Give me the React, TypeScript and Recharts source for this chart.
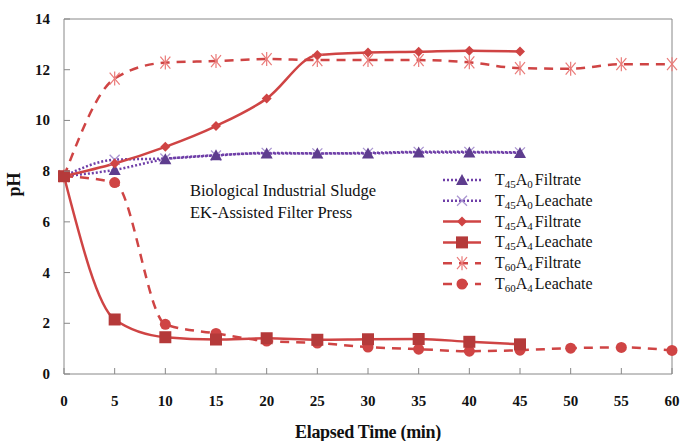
import { Legend, Line, LineChart, ReferenceLine, XAxis, YAxis } from "recharts";

const times = [0, 5, 10, 15, 20, 25, 30, 35, 40, 45, 50, 55, 60];

const t45a0Filtrate = [7.8, 8.05, 8.47, 8.63, 8.7, 8.7, 8.7, 8.74, 8.74, 8.72];
const t45a0Leachate = [7.8, 8.45, 8.5, 8.62, 8.72, 8.7, 8.72, 8.76, 8.76, 8.74];
const t45a4Filtrate = [7.8, 8.3, 8.96, 9.78, 10.86, 12.58, 12.68, 12.71, 12.75, 12.72];
const t45a4Leachate = [7.8, 2.15, 1.45, 1.36, 1.41, 1.35, 1.37, 1.38, 1.27, 1.17];
const t60a4Filtrate = [7.8, 11.65, 12.28, 12.34, 12.42, 12.38, 12.38, 12.38, 12.29, 12.06, 12.04, 12.22, 12.22];
const t60a4Leachate = [7.8, 7.55, 1.96, 1.6, 1.3, 1.22, 1.06, 0.98, 0.9, 0.94, 1.02, 1.05, 0.93];

const yTicks = [0, 2, 4, 6, 8, 10, 12, 14];

const RED = "#cf4444";
const DARK_RED = "#b53a3a";
const PINK = "#ea7a78";
const PURPLE = "#6f3fa8";
const TRI = "#5e3d8e";
const LIGHT_PURPLE = "#a994d0";
const SERIF = "'Liberation Serif', 'Times New Roman', serif";

const data = times.map((t, i) => ({
  t,
  a0f: t45a0Filtrate[i] ?? null,
  a0l: t45a0Leachate[i] ?? null,
  a4f: t45a4Filtrate[i] ?? null,
  a4l: t45a4Leachate[i] ?? null,
  s60f: t60a4Filtrate[i] ?? null,
  s60l: t60a4Leachate[i] ?? null,
}));

type Shape = "triangle" | "x" | "diamond" | "square" | "star" | "circle";

function Marker({ shape, cx, cy }: { shape: Shape; cx: number; cy: number }) {
  switch (shape) {
    case "triangle":
      return <polygon points={`${cx},${cy - 6} ${cx + 6},${cy + 5} ${cx - 6},${cy + 5}`} fill={TRI} />;
    case "x":
      return (
        <g stroke={LIGHT_PURPLE} strokeWidth={1.3}>
          <line x1={cx - 5} y1={cy - 5} x2={cx + 5} y2={cy + 5} />
          <line x1={cx - 5} y1={cy + 5} x2={cx + 5} y2={cy - 5} />
        </g>
      );
    case "diamond":
      return <polygon points={`${cx},${cy - 5} ${cx + 5},${cy} ${cx},${cy + 5} ${cx - 5},${cy}`} fill={RED} />;
    case "square":
      return <rect x={cx - 6} y={cy - 6} width={12} height={12} fill={DARK_RED} />;
    case "star":
      return (
        <g stroke={PINK} strokeWidth={1.2}>
          <line x1={cx - 5} y1={cy - 6} x2={cx + 5} y2={cy + 6} />
          <line x1={cx - 5} y1={cy + 6} x2={cx + 5} y2={cy - 6} />
          <line x1={cx} y1={cy - 7} x2={cx} y2={cy + 7} />
        </g>
      );
    default:
      return <circle cx={cx} cy={cy} r={5.5} fill={RED} />;
  }
}

function dotFor(shape: Shape) {
  return (props: any) => {
    const { cx, cy, index, value } = props;
    if (value == null || cx == null || cy == null) {
      return <g key={`${shape}-${index}`} />;
    }
    return (
      <g key={`${shape}-${index}`}>
        <Marker shape={shape} cx={cx} cy={cy} />
      </g>
    );
  };
}

function XTick({ x, y, payload }: any) {
  return (
    <g>
      <line x1={x} y1={y} x2={x} y2={y - 6} stroke="#888" />
      <text x={x} y={y + 32} textAnchor="middle" fontFamily={SERIF} fontWeight="bold" fontSize={15} fill="#111">
        {payload.value}
      </text>
    </g>
  );
}

function YTick({ x, y, payload }: any) {
  return (
    <g>
      <line x1={x} y1={y} x2={x + 6} y2={y} stroke="#888" />
      <text x={x - 14} y={y + 5} textAnchor="end" fontFamily={SERIF} fontWeight="bold" fontSize={15} fill="#111">
        {payload.value}
      </text>
    </g>
  );
}

const legendRows: { sub1: string; sub2: string; name: string; color: string; dash?: string; width: number; shape: Shape }[] = [
  { sub1: "45", sub2: "0", name: "Filtrate", color: PURPLE, dash: "2 2", width: 2.5, shape: "triangle" },
  { sub1: "45", sub2: "0", name: "Leachate", color: PURPLE, dash: "2 2", width: 2.5, shape: "x" },
  { sub1: "45", sub2: "4", name: "Filtrate", color: RED, width: 2.5, shape: "diamond" },
  { sub1: "45", sub2: "4", name: "Leachate", color: RED, width: 2.5, shape: "square" },
  { sub1: "60", sub2: "4", name: "Filtrate", color: RED, dash: "9 7", width: 2.5, shape: "star" },
  { sub1: "60", sub2: "4", name: "Leachate", color: RED, dash: "9 7", width: 2.5, shape: "circle" },
];

function LegendBox() {
  return (
    <svg width={190} height={130}>
      {legendRows.map((row, i) => {
        const y = 12 + i * 20.8;
        return (
          <g key={i}>
            <line x1={5} y1={y} x2={43} y2={y} stroke={row.color} strokeWidth={row.width} strokeDasharray={row.dash} />
            <Marker shape={row.shape} cx={24} cy={y} />
            <text x={57} y={y + 5} fontFamily={SERIF} fontSize={16} fill="#111">
              T<tspan fontSize={11} dy={3}>{row.sub1}</tspan>
              <tspan dy={-3}>A</tspan>
              <tspan fontSize={11} dy={3}>{row.sub2}</tspan>
              <tspan dy={-3} dx={2}>{row.name}</tspan>
            </text>
          </g>
        );
      })}
    </svg>
  );
}

export default function App() {
  return (
    <div style={{ position: "absolute", left: 0, top: 0, width: 682, height: 441, background: "#fff" }}>
      <LineChart width={682} height={441} data={data} margin={{ top: 19, right: 10, bottom: 0, left: 0 }}>
        <XAxis
          dataKey="t"
          type="number"
          domain={[0, 60]}
          ticks={times}
          interval={0}
          height={67}
          axisLine={{ stroke: "#888" }}
          tickLine={false}
          tickSize={0}
          tickMargin={0}
          tick={<XTick />}
          label={{ value: "Elapsed Time (min)", position: "insideBottom", offset: 3, style: { fontFamily: SERIF, fontWeight: "bold", fontSize: 18, fill: "#111", letterSpacing: -0.3 } }}
        />
        <YAxis
          type="number"
          domain={[0, 14]}
          ticks={yTicks}
          width={64}
          axisLine={{ stroke: "#888" }}
          tickLine={false}
          tickSize={0}
          tickMargin={0}
          tick={<YTick />}
          label={{ value: "pH", angle: -90, position: "insideLeft", offset: 14, style: { fontFamily: SERIF, fontWeight: "bold", fontSize: 18, fill: "#111" } }}
        />
        <ReferenceLine y={14} stroke="#888" />
        <ReferenceLine x={60} stroke="#888" />
        <Legend
          layout="horizontal"
          verticalAlign="middle"
          align="center"
          wrapperStyle={{ position: "absolute", left: 438, top: 168, width: 190, height: 130 }}
          content={() => <LegendBox />}
        />
        <Line type="monotone" dataKey="a0l" stroke={PURPLE} strokeWidth={2.5} strokeDasharray="2 2" dot={dotFor("x")} isAnimationActive={false} />
        <Line type="monotone" dataKey="a0f" stroke={PURPLE} strokeWidth={2.5} strokeDasharray="2 2" dot={dotFor("triangle")} isAnimationActive={false} />
        <Line type="monotone" dataKey="s60f" stroke={RED} strokeWidth={2.5} strokeDasharray="9 7" dot={dotFor("star")} isAnimationActive={false} />
        <Line type="monotone" dataKey="s60l" stroke={RED} strokeWidth={2.5} strokeDasharray="9 7" dot={dotFor("circle")} isAnimationActive={false} />
        <Line type="monotone" dataKey="a4f" stroke={RED} strokeWidth={2.5} dot={dotFor("diamond")} isAnimationActive={false} />
        <Line type="monotone" dataKey="a4l" stroke={RED} strokeWidth={2.5} dot={dotFor("square")} isAnimationActive={false} />
      </LineChart>
      <div style={{ position: "absolute", left: 190, top: 180, fontFamily: SERIF, fontSize: 16.5, lineHeight: "22px", color: "#111", whiteSpace: "nowrap" }}>
        Biological Industrial Sludge
        <br />
        EK-Assisted Filter Press
      </div>
    </div>
  );
}
